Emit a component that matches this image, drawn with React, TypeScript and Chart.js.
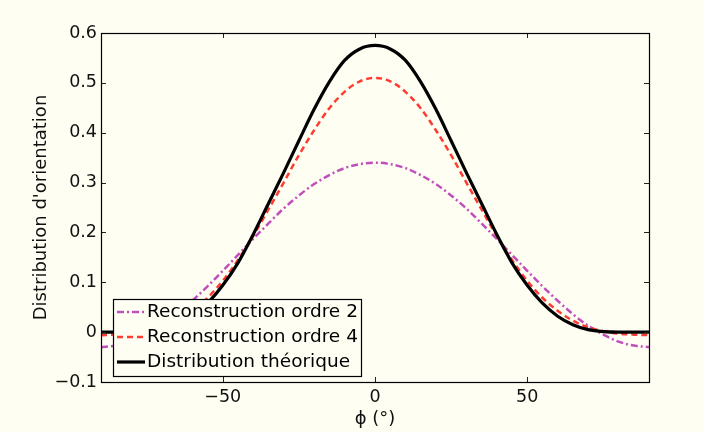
import React, { useEffect, useRef } from 'react';
import { Chart, registerables } from 'chart.js';

Chart.register(...registerables);

// ---- data ----
const phi = [
  -90, -85, -80, -75, -70, -65, -60, -55, -50, -45, -40, -35, -30, -25, -20, -15, -10, -5,
  0, 5, 10, 15, 20, 25, 30, 35, 40, 45, 50, 55, 60, 65, 70, 75, 80, 85, 90,
];
const ordre2 = [
  -0.030, -0.027, -0.019, -0.005, 0.013, 0.036, 0.063, 0.092, 0.123, 0.155, 0.187, 0.218, 0.248, 0.274, 0.297, 0.315, 0.329, 0.337,
  0.340, 0.337, 0.329, 0.315, 0.297, 0.274, 0.248, 0.218, 0.187, 0.155, 0.123, 0.092, 0.063, 0.036, 0.013, -0.005, -0.019, -0.027, -0.030,
];
const ordre4 = [
  -0.006, -0.005, -0.003, 0.002, 0.010, 0.023, 0.043, 0.069, 0.103, 0.145, 0.193, 0.246, 0.300, 0.355, 0.405, 0.449, 0.482, 0.503,
  0.510, 0.503, 0.482, 0.449, 0.405, 0.355, 0.300, 0.246, 0.193, 0.145, 0.103, 0.069, 0.043, 0.023, 0.010, 0.002, -0.003, -0.005, -0.006,
];
const theorique = [
  0, 0, 0, 0.001, 0.005, 0.015, 0.032, 0.058, 0.094, 0.139, 0.196, 0.258, 0.320, 0.384, 0.447, 0.502, 0.545, 0.568,
  0.575, 0.568, 0.545, 0.502, 0.447, 0.384, 0.320, 0.258, 0.196, 0.139, 0.094, 0.058, 0.032, 0.015, 0.005, 0.001, 0, 0, 0,
];
const xTicks = [-50, 0, 50];
const yMin = -0.1;
const yMax = 0.6;
const yStep = 0.1;
const seriesLabels = ['Reconstruction ordre 2', 'Reconstruction ordre 4', 'Distribution théorique'];
const xTitle = 'ϕ (°)';
const yTitle = "Distribution d'orientation";

const BG = '#fefef3';
const FONT = 'DejaVu Sans';
const COLORS = ['#c04fbc', '#ff3b30', '#000000'];
const WIDTHS = [2.5, 2.5, 3.2];
const DASHES: number[][] = [[7, 3, 2, 3], [6, 4], []];

const fmt = (v: number, digits: number) => {
  if (Math.abs(v) < 1e-9) return '0';
  const s = Math.abs(v).toFixed(digits);
  return (v < 0 ? '\u2212' : '') + s;
};

const framePlugin = {
  id: 'matlabFrame',
  afterDatasetsDraw(chart: any) {
    const { ctx, chartArea: a, scales } = chart;
    ctx.save();
    // ticks (inward, on all four sides)
    ctx.strokeStyle = '#222';
    ctx.lineWidth = 1;
    const tl = 5;
    ctx.beginPath();
    scales.x.ticks.forEach((t: any) => {
      const px = Math.round(scales.x.getPixelForValue(t.value)) + 0.5;
      ctx.moveTo(px, a.bottom);
      ctx.lineTo(px, a.bottom - tl);
      ctx.moveTo(px, a.top);
      ctx.lineTo(px, a.top + tl);
    });
    scales.y.ticks.forEach((t: any) => {
      const py = Math.round(scales.y.getPixelForValue(t.value)) + 0.5;
      ctx.moveTo(a.left, py);
      ctx.lineTo(a.left + tl, py);
      ctx.moveTo(a.right, py);
      ctx.lineTo(a.right - tl, py);
    });
    ctx.stroke();
    // box
    ctx.strokeStyle = '#000';
    ctx.lineWidth = 1.2;
    ctx.strokeRect(a.left + 0.5, a.top + 0.5, a.right - a.left, a.bottom - a.top);

    // legend (inside, lower-left)
    const lx = a.left + 12;
    const ly = a.top + 266;
    const lw = 248;
    const lh = 77;
    ctx.fillStyle = BG;
    ctx.fillRect(lx, ly, lw, lh);
    ctx.strokeStyle = '#000';
    ctx.lineWidth = 1.2;
    ctx.strokeRect(lx + 0.5, ly + 0.5, lw, lh);
    ctx.font = `18.5px "${FONT}"`;
    ctx.textBaseline = 'middle';
    ctx.textAlign = 'left';
    seriesLabels.forEach((lab, i) => {
      const cy = ly + 13 + i * 25;
      ctx.save();
      ctx.strokeStyle = COLORS[i];
      ctx.lineWidth = WIDTHS[i];
      ctx.setLineDash(DASHES[i]);
      ctx.beginPath();
      ctx.moveTo(lx + 4, cy);
      ctx.lineTo(lx + 32, cy);
      ctx.stroke();
      ctx.restore();
      ctx.fillStyle = '#000';
      ctx.fillText(lab, lx + 34, cy);
    });
    ctx.restore();
  },
};

export default function App() {
  const ref = useRef<HTMLCanvasElement | null>(null);

  useEffect(() => {
    if (!ref.current) return;
    const mk = (vals: number[]) => phi.map((x, i) => ({ x, y: vals[i] }));
    const series = [ordre2, ordre4, theorique];
    const chart = new Chart(ref.current, {
      type: 'line',
      data: {
        datasets: series.map((vals, i) => ({
          label: seriesLabels[i],
          data: mk(vals),
          borderColor: COLORS[i],
          borderWidth: WIDTHS[i],
          borderDash: DASHES[i],
          cubicInterpolationMode: 'monotone',
          pointRadius: 0,
          fill: false,
          order: 2 - i,
        })),
      },
      options: {
        animation: false,
        responsive: false,
        maintainAspectRatio: false,
        layout: { padding: { left: 0, right: 55, top: 33, bottom: 0 } },
        plugins: { legend: { display: false }, tooltip: { enabled: false } },
        scales: {
          x: {
            type: 'linear',
            min: -90,
            max: 90,
            afterBuildTicks: (s: any) => {
              s.ticks = xTicks.map((v) => ({ value: v }));
            },
            afterFit: (s: any) => {
              s.height = 50;
            },
            grid: { display: false, drawTicks: false },
            border: { display: false },
            ticks: {
              padding: 5,
              color: '#111',
              font: { family: FONT, size: 17.5 },
              maxRotation: 0,
              callback: (v: any) => fmt(Number(v), 0),
            },
            title: {
              display: true,
              text: xTitle,
              color: '#111',
              font: { family: FONT, size: 18 },
              padding: { top: 0, bottom: 2 },
            },
          },
          y: {
            type: 'linear',
            min: yMin,
            max: yMax,
            afterFit: (s: any) => {
              s.width = 101;
            },
            grid: { display: false, drawTicks: false },
            border: { display: false },
            ticks: {
              stepSize: yStep,
              padding: 4,
              color: '#111',
              font: { family: FONT, size: 17.5 },
              callback: (v: any) => fmt(Number(v), 1),
            },
            title: {
              display: true,
              text: yTitle,
              color: '#111',
              font: { family: FONT, size: 18 },
              padding: { top: 31, bottom: 0 },
            },
          },
        },
      },
      plugins: [framePlugin],
    } as any);
    return () => chart.destroy();
  }, []);

  return (
    <div
      style={{
        position: 'fixed',
        left: 0,
        top: 0,
        width: 704,
        height: 432,
        background: BG,
      }}
    >
      <canvas ref={ref} width={704} height={432} style={{ display: 'block', width: 704, height: 432 }} />
    </div>
  );
}
